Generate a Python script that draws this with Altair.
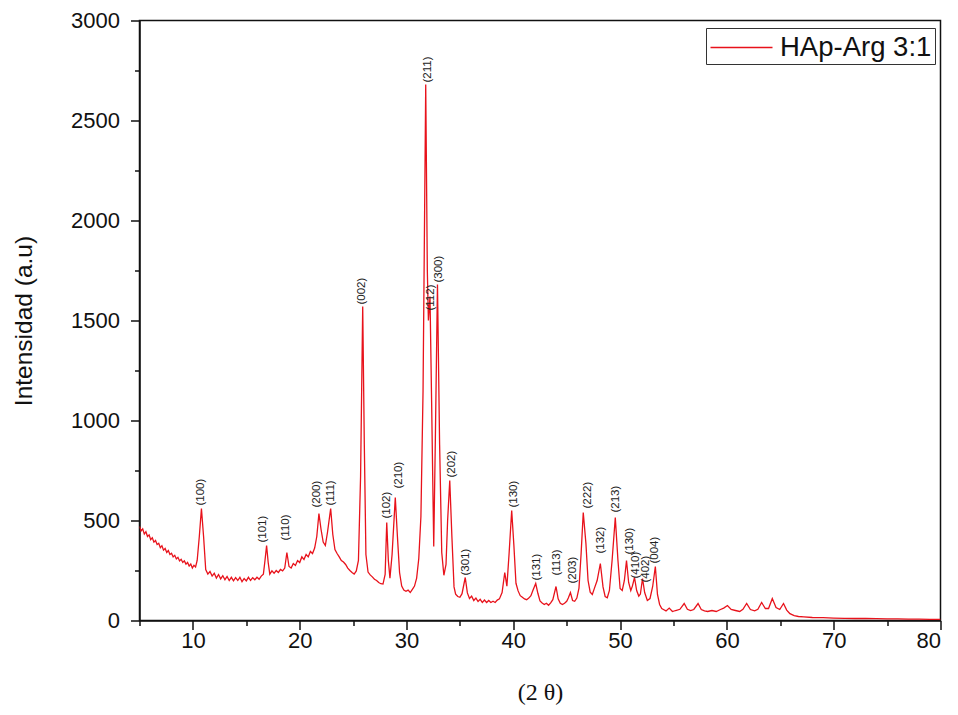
import altair as alt
import pandas as pd

# ---- XRD pattern: (2 theta, intensity) ----
pattern = [
    (5.0, 470), (5.15, 448), (5.3, 458), (5.45, 432), (5.6, 444), (5.75, 420),
    (5.9, 428), (6.05, 404), (6.2, 414), (6.35, 392), (6.5, 400), (6.65, 380),
    (6.8, 386), (6.95, 364), (7.1, 374), (7.25, 352), (7.4, 360), (7.55, 340),
    (7.7, 350), (7.85, 330), (8.0, 336), (8.15, 318), (8.3, 326), (8.45, 308),
    (8.6, 316), (8.75, 298), (8.9, 306), (9.05, 290), (9.2, 298), (9.35, 282),
    (9.5, 290), (9.65, 272), (9.8, 282), (9.95, 262), (10.1, 276),
    (10.25, 268), (10.4, 300), (10.6, 420),
    (10.8, 560), (11.0, 420), (11.2, 255), (11.4, 232), (11.6, 245),
    (11.8, 222), (12.0, 236), (12.2, 212), (12.4, 230), (12.6, 208),
    (12.8, 224), (13.0, 204), (13.2, 220), (13.4, 200), (13.6, 216),
    (13.8, 198), (14.0, 214), (14.2, 200), (14.4, 216), (14.6, 194),
    (14.8, 210), (15.0, 198), (15.2, 216), (15.4, 200), (15.6, 214),
    (15.8, 204), (16.0, 216), (16.2, 206), (16.4, 222), (16.6, 232),
    (16.75, 300), (16.9, 375), (17.05, 290), (17.2, 232), (17.4, 248),
    (17.6, 236), (17.8, 250), (18.0, 240), (18.2, 255), (18.4, 248),
    (18.6, 262), (18.8, 340), (19.0, 270), (19.2, 262), (19.4, 285),
    (19.6, 275), (19.8, 300), (20.0, 290), (20.2, 318), (20.4, 305),
    (20.6, 330), (20.8, 318), (21.0, 345), (21.2, 335), (21.4, 362),
    (21.6, 420), (21.8, 535), (22.0, 455), (22.2, 392), (22.4, 375),
    (22.6, 440), (22.9, 560), (23.1, 430), (23.3, 355), (23.5, 335),
    (23.7, 318), (23.9, 300), (24.1, 292), (24.3, 280), (24.5, 262),
    (24.7, 250), (24.9, 240), (25.1, 232), (25.3, 248), (25.5, 300),
    (25.7, 720), (25.9, 1570), (26.05, 880), (26.2, 330), (26.4, 242),
    (26.6, 228), (26.8, 218), (27.0, 206), (27.2, 200), (27.4, 190),
    (27.6, 184), (27.8, 182), (28.0, 230), (28.15, 490), (28.3, 300),
    (28.45, 212), (28.65, 330), (28.95, 615), (29.15, 420), (29.35, 240),
    (29.55, 172), (29.75, 152), (29.95, 146), (30.15, 152), (30.35, 140),
    (30.55, 156), (30.75, 172), (30.95, 212), (31.15, 310), (31.35, 520),
    (31.55, 1150), (31.8, 2680), (31.95, 1750), (32.05, 1500), (32.2, 1620),
    (32.35, 1100), (32.55, 370), (32.7, 900), (32.9, 1680), (33.1, 880),
    (33.3, 340), (33.5, 226), (33.7, 280), (33.85, 500), (34.05, 700),
    (34.25, 420), (34.45, 168), (34.6, 132), (34.8, 120), (35.0, 116),
    (35.2, 134), (35.5, 215), (35.7, 138), (35.9, 110), (36.1, 122),
    (36.3, 100), (36.5, 112), (36.7, 95), (36.9, 106), (37.1, 90),
    (37.3, 102), (37.5, 90), (37.7, 100), (37.9, 90), (38.1, 96), (38.3, 90),
    (38.5, 102), (38.7, 108), (38.95, 140), (39.2, 240), (39.4, 172),
    (39.6, 330), (39.85, 550), (40.05, 380), (40.25, 186), (40.45, 148),
    (40.65, 124), (40.85, 116), (41.05, 108), (41.25, 104), (41.45, 112),
    (41.65, 124), (41.85, 152), (42.1, 185), (42.3, 136), (42.5, 98),
    (42.7, 88), (42.9, 80), (43.1, 86), (43.3, 76), (43.5, 88), (43.7, 104),
    (44.0, 170), (44.2, 108), (44.4, 86), (44.6, 80), (44.8, 86), (45.0, 96),
    (45.15, 112), (45.35, 140), (45.55, 100), (45.75, 96), (45.95, 112),
    (46.15, 162), (46.35, 335), (46.55, 540), (46.8, 385), (47.0, 200),
    (47.2, 142), (47.4, 130), (47.6, 162), (47.85, 200), (48.15, 285),
    (48.4, 168), (48.6, 120), (48.8, 114), (49.0, 150), (49.25, 300),
    (49.55, 515), (49.8, 300), (50.0, 160), (50.2, 150), (50.4, 200),
    (50.6, 300), (50.8, 190), (51.0, 150), (51.15, 172), (51.35, 215),
    (51.55, 150), (51.75, 122), (51.9, 132), (52.1, 210), (52.3, 140),
    (52.55, 100), (52.8, 110), (53.05, 170), (53.3, 270), (53.5, 130),
    (53.7, 80), (53.9, 60), (54.1, 54), (54.3, 48), (54.6, 62), (54.9, 45),
    (55.2, 50), (55.6, 56), (56.0, 85), (56.3, 56), (56.6, 50), (56.9, 55),
    (57.3, 85), (57.6, 55), (57.9, 48), (58.2, 45), (58.6, 50), (59.0, 45),
    (59.4, 55), (59.7, 62), (60.05, 75), (60.4, 55), (60.8, 50), (61.2, 45),
    (61.5, 56), (61.85, 85), (62.2, 55), (62.6, 48), (62.9, 56), (63.25, 90),
    (63.6, 60), (63.9, 60), (64.25, 110), (64.6, 65), (64.95, 55),
    (65.3, 85), (65.6, 52), (65.9, 34), (66.3, 24), (66.7, 20), (67.2, 18),
    (68.0, 15), (69.0, 14), (70.0, 12), (71.0, 11), (72.0, 10), (73.0, 10),
    (74.0, 9), (75.0, 8), (76.0, 8), (77.0, 7), (78.0, 7), (79.0, 6),
    (80.0, 6),
]
two_theta = [p[0] for p in pattern]
intensity = [p[1] for p in pattern]

# ---- Miller-index labels (label position in data units) ----
hkl = ["(100)", "(101)", "(110)", "(200)", "(111)", "(002)", "(102)", "(210)",
       "(211)", "(112)", "(300)", "(202)", "(301)", "(130)", "(131)", "(113)",
       "(203)", "(222)", "(132)", "(213)", "(130)", "(410)", "(402)", "(004)"]
hkl_x = [10.8, 16.6, 18.7, 21.6, 22.9, 25.8, 28.15, 29.3, 32.0, 32.3, 33.05,
         34.3, 35.6, 40.1, 42.2, 44.05, 45.55, 46.95, 48.2, 49.6, 50.9, 51.45,
         52.4, 53.3]
hkl_y = [575, 390, 400, 565, 575, 1580, 510, 660, 2690, 1550, 1690, 715, 225,
         565, 200, 225, 185, 560, 335, 540, 330, 210, 190, 285]

series_name = ["HAp-Arg 3:1"]

x_major = [10, 20, 30, 40, 50, 60, 70, 80]
x_minor = [5, 15, 25, 35, 45, 55, 65, 75]
y_major = [0, 500, 1000, 1500, 2000, 2500, 3000]
y_minor = [250, 750, 1250, 1750, 2250, 2750]

df = pd.DataFrame({"tt": two_theta, "I": intensity})
df["s"] = series_name[0]
lab = pd.DataFrame({"x": hkl_x, "y": hkl_y, "t": hkl})

RED = "#e8121b"
FONT = "Liberation Sans"
xs = alt.Scale(domain=[5, 80], nice=False, zero=False)
ys = alt.Scale(domain=[0, 3000], nice=False)

line = alt.Chart(df).mark_line(strokeWidth=1.3, clip=True).encode(
    x=alt.X("tt:Q", scale=xs, axis=alt.Axis(
        values=x_major, tickSize=9, labelPadding=1, labelFontSize=22,
        labelFont=FONT, labelColor="#111", labelFlush=8, labelOverlap=False,
        format="d",
        title="(2 θ)", titleFont="Liberation Serif", titleFontSize=24,
        titleFontWeight="normal", titleColor="#111", titleX=400.5, titleY=72,
        titleBaseline="middle", titleAlign="center")),
    y=alt.Y("I:Q", scale=ys, axis=alt.Axis(
        values=y_major, tickSize=9, labelPadding=11, labelFontSize=22,
        labelFont=FONT, labelColor="#111", labelOverlap=False, format="d",
        title="Intensidad (a.u)", titleFont=FONT, titleFontSize=24.5,
        titleFontWeight="normal", titleColor="#111", titleX=-115.5,
        titleY=300, titleAngle=270, titleAlign="center",
        titleBaseline="middle")),
    color=alt.Color("s:N", scale=alt.Scale(domain=series_name, range=[RED]),
                    legend=alt.Legend(
                        title=None, orient="none", legendX=566.5, legendY=7.5,
                        symbolType="M-2,0H2", symbolSize=961,
                        symbolOffset=16, symbolStrokeWidth=1.6,
                        labelFontSize=27.5, labelFont=FONT, labelColor="#111",
                        labelOffset=22, padding=3, strokeColor="#333",
                        fillColor="white", cornerRadius=0)),
)

minor = alt.Chart(df).mark_line(strokeOpacity=0).encode(
    x=alt.X("tt:Q", scale=xs, axis=alt.Axis(
        values=x_minor, tickSize=5, labels=False, domain=False, title=None,
        orient="bottom")),
    y=alt.Y("I:Q", scale=ys, axis=alt.Axis(
        values=y_minor, tickSize=5, labels=False, domain=False, title=None,
        orient="left")),
)

labels = alt.Chart(lab).mark_text(
    angle=270, align="left", baseline="middle", fontSize=11.5, font=FONT,
    color="#222").encode(
    x=alt.X("x:Q", scale=xs, axis=None),
    y=alt.Y("y:Q", scale=ys, axis=None),
    text="t:N",
)

chart = alt.layer(line, minor, labels).resolve_axis(
    x="independent", y="independent"
).properties(
    width=801, height=600,
    autosize=alt.AutoSizeParams(type="none"),
    padding={"left": 131.5, "top": 12.5, "right": 9.5, "bottom": 86},
).configure_view(
    stroke="#111", strokeWidth=1.5
).configure_axis(
    grid=False, domainColor="#111", domainWidth=1.5, tickColor="#111",
    tickWidth=1.5,
)

chart.save("out.html", embed_options={"renderer": "svg", "actions": False})
